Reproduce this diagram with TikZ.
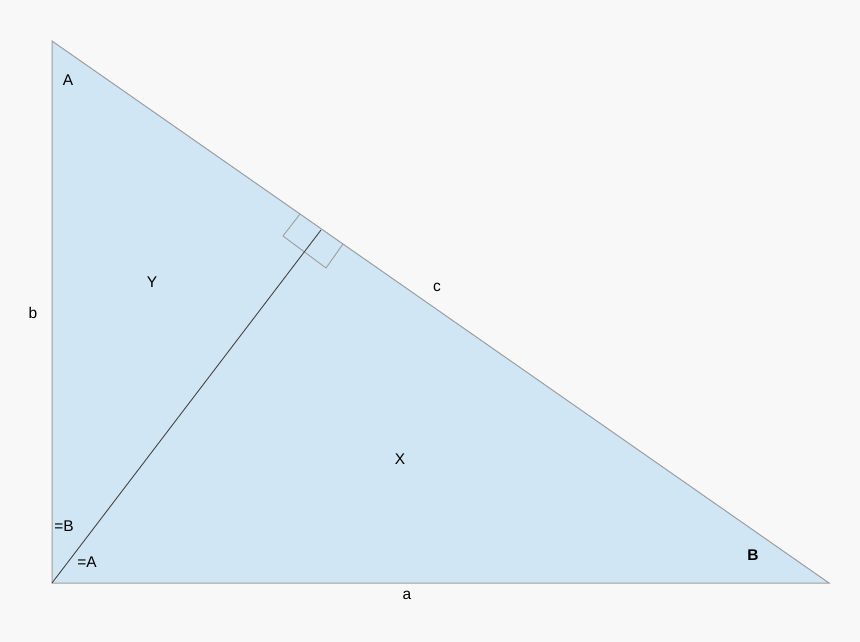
\documentclass[tikz,border=0pt]{standalone}
\usepackage{fontspec}
\setmainfont{Liberation Sans}
\definecolor{bg}{HTML}{F8F8F8}
\definecolor{tri}{HTML}{D0E6F5}
\definecolor{edge}{HTML}{9E9E9E}
\definecolor{alt}{HTML}{444444}
\begin{document}
\begin{tikzpicture}[x=1pt,y=-1pt,
  lbl/.style={inner sep=0pt,font=\fontsize{15.5}{17}\selectfont,text=black}]
\useasboundingbox[fill=bg] (0,0) rectangle (860,642);
\coordinate (A) at (52,41);
\coordinate (C) at (52,583);
\coordinate (B) at (829,583);
\coordinate (H) at (321,230);
\fill[tri] (A) -- (C) -- (B) -- cycle;
\draw[edge,line width=1pt] (A) -- (C) -- (B) -- cycle;
\draw[edge,line width=0.9pt] (300,214) -- (283,236) -- (326,268) -- (343,244);
\draw[alt,line width=0.9pt] (C) -- (H);
\node[lbl] (lA) at (68,80.5) {A};
\node[lbl] (lY) at (152,282.5) {Y};
\node[lbl] (lb) at (33,312.5) {b};
\node[lbl] (lc) at (437,287.5) {c};
\node[lbl] (lX) at (400,459.5) {X};
\node[lbl] (lB2) at (64,526.5) {=B};
\node[lbl] (lA2) at (87,562.5) {=A};
\node[lbl,font=\bfseries\fontsize{15.5}{17}\selectfont] (lB) at (753,555.5) {B};
\node[lbl] (la) at (407,595.5) {a};
\end{tikzpicture}
\end{document}
